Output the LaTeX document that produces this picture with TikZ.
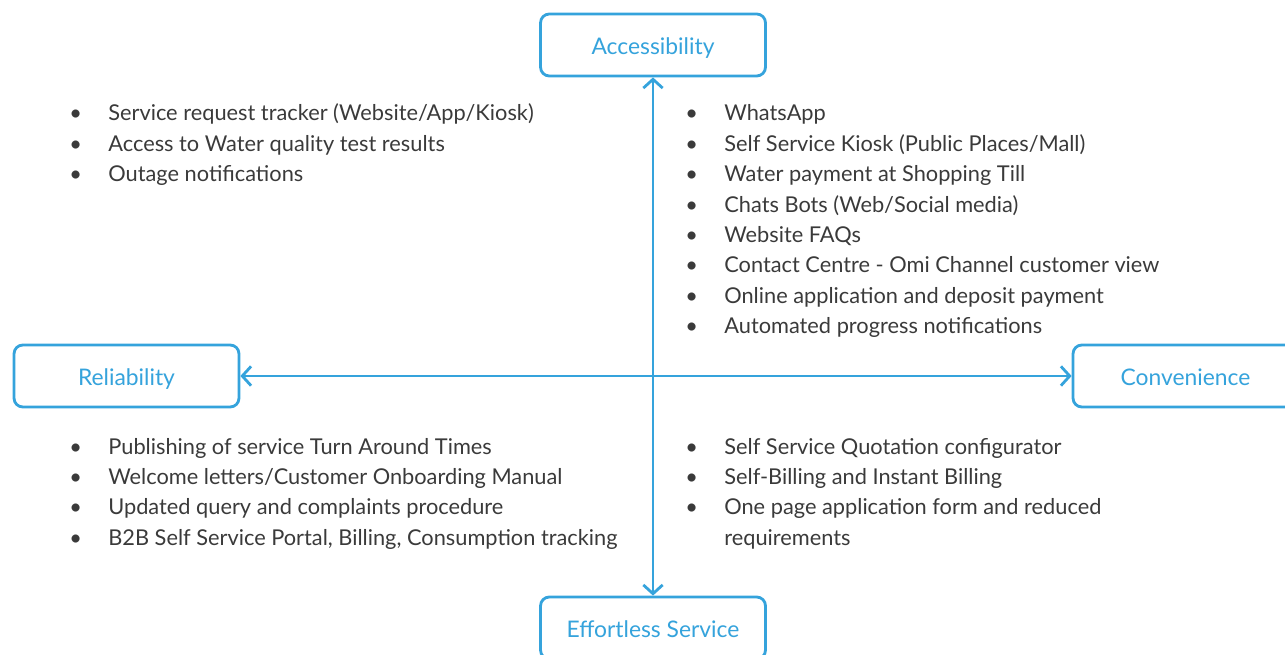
\documentclass[tikz,border=0pt]{standalone}
\usepackage{fontspec}
\setmainfont{Lato}
\usetikzlibrary{positioning,arrows.meta}
\definecolor{cAxis}{HTML}{35A3DC}
\definecolor{cText}{HTML}{3A3A3A}
\tikzset{
  dimb/.style={draw=cAxis, line width=1.6pt, rounded corners=5pt, fill=white,
               minimum width=4.5cm, minimum height=1.24cm, inner sep=0pt,
               text height=11pt, text depth=0pt,
               text=cAxis, font=\fontsize{13}{15}\selectfont},
  ar/.style={{Straight Barb[length=5pt,width=11pt]}-{Straight Barb[length=5pt,width=11pt]},
             line width=1.6pt, cAxis},
  lst/.style={anchor=base west, inner sep=0pt, text=cText,
              font=\fontsize{12.4}{17.3}\selectfont},
}
\newcommand{\blist}[1]{\begin{tabular}[t]{@{}p{0.78cm}@{}l@{}}#1\end{tabular}}

\begin{document}
\begin{tikzpicture}[x=0.02cm, y=-0.02cm]
  \useasboundingbox (0,0) rectangle (1285,655);
  % the four dimensions
  \node[dimb] (acc) at (653,45)    {Accessibility};
  \node[dimb] (rel) at (126.5,376) {Reliability};
  \node[dimb] (con) at (1185.5,376) {Convenience};
  \node[dimb] (eff) at (653,628)   {Effortless Service};
  \draw[ar] (acc) -- (eff);
  \draw[ar] (rel) -- (con);
  % quadrant lists
  \node[lst] (tl) at (69,121) {\blist{
    \textbullet & Service request tracker (Website/App/Kiosk)\\
    \textbullet & Access to Water quality test results\\
    \textbullet & Outage notifications}};
  \node[lst] (tr) at (685,121) {\blist{
    \textbullet & WhatsApp\\
    \textbullet & Self Service Kiosk (Public Places/Mall)\\
    \textbullet & Water payment at Shopping Till\\
    \textbullet & Chats Bots (Web/Social media)\\
    \textbullet & Website FAQs\\
    \textbullet & Contact Centre - Omi Channel customer view\\
    \textbullet & Online application and deposit payment\\
    \textbullet & Automated progress notifications}};
  \node[lst] (bl) at (69,454) {\blist{
    \textbullet & Publishing of service Turn Around Times\\
    \textbullet & Welcome letters/Customer Onboarding Manual\\
    \textbullet & Updated query and complaints procedure\\
    \textbullet & B2B Self Service Portal, Billing, Consumption tracking}};
  \node[lst] (br) at (685,454) {\blist{
    \textbullet & Self Service Quotation configurator\\
    \textbullet & Self-Billing and Instant Billing\\
    \textbullet & One page application form and reduced\\
                & requirements}};
\end{tikzpicture}
\end{document}
